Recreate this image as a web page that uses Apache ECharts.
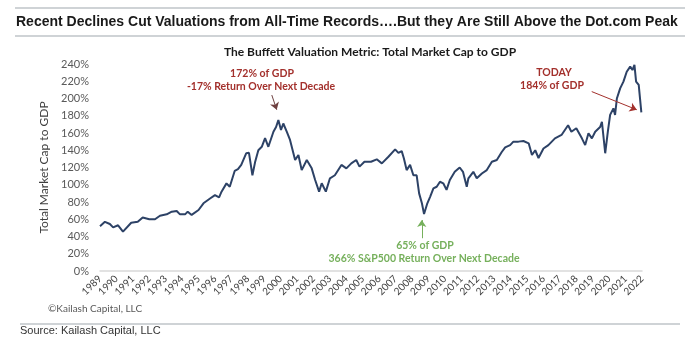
<!DOCTYPE html>
<html>
<head>
<meta charset="utf-8">
<script src="https://cdn.jsdelivr.net/npm/echarts@6/dist/echarts.min.js"></script>
<style>
  html, body { margin: 0; padding: 0; background: #fff; }
  #main { width: 700px; height: 357px; }
</style>
</head>
<body>
<div id="main"></div>
<script>
// dates as fractional years (% of GDP)
var dates = [
  1989.0, 1989.3, 1989.6, 1989.8, 1990.1, 1990.4, 1990.9, 1991.3, 1991.6, 1992.0,
  1992.35, 1992.65, 1993.06, 1993.37, 1993.67, 1993.87, 1994.18, 1994.34, 1994.58, 1995.0,
  1995.3, 1995.7, 1996.0, 1996.25, 1996.4, 1996.7, 1996.9, 1997.2, 1997.4, 1997.6,
  1997.9, 1998.07, 1998.28, 1998.44, 1998.64, 1998.85, 1999.05, 1999.25, 1999.56, 1999.72,
  1999.86, 2000.02, 2000.16, 2000.37, 2000.57, 2000.88, 2001.08, 2001.28, 2001.59, 2001.89,
  2002.1, 2002.34, 2002.5, 2002.75, 2003.0, 2003.3, 2003.7, 2004.0, 2004.3, 2004.6,
  2004.8, 2005.1, 2005.5, 2005.85, 2006.16, 2006.56, 2006.97, 2007.17, 2007.37, 2007.5,
  2007.67, 2007.88, 2008.08, 2008.28, 2008.43, 2008.6, 2008.73, 2008.93, 2009.1, 2009.3,
  2009.5, 2009.7, 2009.9, 2010.1, 2010.3, 2010.6, 2010.9, 2011.1, 2011.33, 2011.43,
  2011.73, 2011.94, 2012.25, 2012.55, 2012.86, 2013.16, 2013.46, 2013.67, 2013.97, 2014.17,
  2014.48, 2014.78, 2015.1, 2015.3, 2015.5, 2015.7, 2016.0, 2016.3, 2016.7, 2017.1,
  2017.5, 2017.7, 2018.0, 2018.34, 2018.54, 2018.74, 2018.95, 2019.15, 2019.45, 2019.56,
  2019.76, 2019.92, 2020.06, 2020.26, 2020.36, 2020.47, 2020.67, 2020.87, 2021.07, 2021.28,
  2021.42, 2021.54, 2021.64, 2021.8, 2021.96
];
var marketCapToGdp = [
  52, 57, 54.5, 50.6, 53, 45.6, 56, 57, 62, 60,
  60, 64, 65.7, 68.8, 69.6, 65.7, 65.7, 68.8, 65, 70.7,
  78.5, 84, 88, 85.4, 92, 101.6, 97.7, 116, 118, 123,
  136.5, 137, 111, 126, 140, 144, 154, 144, 161.5, 167,
  175, 163.5, 171, 161.5, 152, 128.7, 134.5, 117, 128.7, 119,
  105.5, 92, 101.7, 92, 107.5, 111, 123, 119, 124.8, 128.7,
  121, 126.7, 126.7, 129.5, 124.8, 132.5, 141, 137, 139, 130.7,
  117, 123, 111, 111, 90, 78.5, 66, 78.5, 86, 95.8,
  97.7, 103.5, 101.7, 94, 105.5, 115, 120, 115, 97.7, 107.5,
  115, 107.5, 113, 117, 126.7, 128.7, 138, 143.4, 146, 150,
  150, 150.7, 148, 134.5, 140, 131, 142, 146, 153.8, 157.7,
  169, 161.5, 165.5, 153.8, 146, 159.6, 153.8, 161.5, 167, 173,
  136.5, 161.5, 181, 188.6, 181, 200, 211.8, 219.5, 231, 237,
  233, 239, 219.5, 215.7, 184
];

var firstYear = 1989;
var lastYear = 2022;

var seriesData = dates.map(function (d, i) { return [d, marketCapToGdp[i]]; });

var red = '#a3302c';
var green = '#76b05c';

var myChart = echarts.init(document.getElementById('main'));

var option = {
  backgroundColor: '#fff',
  animation: false,
  grid: { left: 100, right: 58, top: 64, bottom: 86 },
  xAxis: {
    type: 'value',
    min: firstYear,
    max: lastYear,
    interval: 1,
    axisLine: { show: true, lineStyle: { color: '#d9d9d9', width: 1.5 } },
    axisTick: { show: false },
    splitLine: { show: false },
    axisLabel: {
      rotate: 45,
      margin: 6,
      fontSize: 10,
      fontFamily: 'Lato',
      color: '#404040',
      formatter: function (v) { return String(v); }
    }
  },
  yAxis: {
    type: 'value',
    min: 0,
    max: 240,
    interval: 20,
    name: 'Total Market Cap to GDP',
    nameLocation: 'middle',
    nameGap: 40,
    nameTextStyle: { fontSize: 12, fontFamily: 'Lato', color: '#404040' },
    axisLine: { show: false },
    axisTick: { show: false },
    splitLine: { show: false },
    axisLabel: {
      fontSize: 11,
      fontFamily: 'Lato',
      color: '#595959',
      margin: 11,
      formatter: '{value}%'
    }
  },
  series: [{
    type: 'line',
    data: seriesData,
    showSymbol: false,
    lineStyle: { color: '#2d4266', width: 2 },
    markLine: {
      silent: true,
      symbol: ['none', 'arrow'],
      symbolSize: 7,
      label: { show: false },
      data: [
        [{ coord: [1999.46, 204], lineStyle: { color: '#6e4040', width: 1, type: 'solid' } },
         { coord: [1999.76, 187] }],
        [{ coord: [2018.94, 208], lineStyle: { color: red, width: 1, type: 'solid' } },
         { coord: [2021.68, 187] }],
        [{ coord: [2008.59, 38], lineStyle: { color: green, width: 1, type: 'solid' } },
         { coord: [2008.59, 59] }]
      ]
    }
  }],
  graphic: [
    { type: 'line', shape: { x1: 15, y1: 8, x2: 685, y2: 8 }, style: { stroke: '#bfc4c8', lineWidth: 1.5 } },
    { type: 'line', shape: { x1: 15, y1: 36, x2: 685, y2: 36 }, style: { stroke: '#bfc4c8', lineWidth: 1.5 } },
    { type: 'text', x: 16, y: 22, style: {
      text: 'Recent Declines Cut Valuations from All-Time Records\u2026.But they Are Still Above the Dot.com Peak',
      font: 'bold 14px "Liberation Sans", Arial', fill: '#1a1a1a', textVerticalAlign: 'middle' } },
    { type: 'text', x: 370, y: 52, style: {
      text: 'The Buffett Valuation Metric: Total Market Cap to GDP',
      font: 'bold 12px Lato', fill: '#1a1a1a', textAlign: 'center', textVerticalAlign: 'middle' } },
    { type: 'text', x: 262, y: 74, style: { text: '172% of GDP', font: 'bold 10.5px Lato', fill: red, textAlign: 'center', textVerticalAlign: 'middle' } },
    { type: 'text', x: 261, y: 87, style: { text: '-17% Return Over Next Decade', font: 'bold 10.5px Lato', fill: red, textAlign: 'center', textVerticalAlign: 'middle' } },
    { type: 'text', x: 554, y: 73, style: { text: 'TODAY', font: 'bold 10.5px Lato', fill: red, textAlign: 'center', textVerticalAlign: 'middle' } },
    { type: 'text', x: 552, y: 86, style: { text: '184% of GDP', font: 'bold 10.5px Lato', fill: red, textAlign: 'center', textVerticalAlign: 'middle' } },
    { type: 'text', x: 425, y: 246, style: { text: '65% of GDP', font: 'bold 10.5px Lato', fill: green, textAlign: 'center', textVerticalAlign: 'middle' } },
    { type: 'text', x: 424, y: 259, style: { text: '366% S&P500 Return Over Next Decade', font: 'bold 10.5px Lato', fill: green, textAlign: 'center', textVerticalAlign: 'middle' } },
    { type: 'text', x: 48, y: 309, style: { text: '\u00a9Kailash Capital, LLC', font: '10px Lato', fill: '#595959', textVerticalAlign: 'middle' } },
    { type: 'line', shape: { x1: 20, y1: 324, x2: 680, y2: 324 }, style: { stroke: '#bfc4c8', lineWidth: 1.5 } },
    { type: 'text', x: 20, y: 331, style: { text: 'Source: Kailash Capital, LLC', font: '11px "Liberation Sans", Arial', fill: '#333', textVerticalAlign: 'middle' } }
  ]
};

myChart.setOption(option);
</script>
</body>
</html>
